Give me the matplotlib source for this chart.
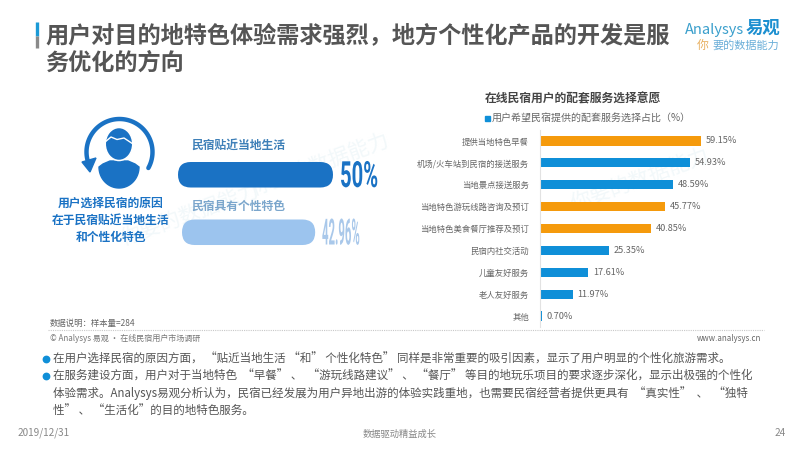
# -*- coding: utf-8 -*-
"""Slide: lodging users' reasons and wanted add-on services."""

import matplotlib
matplotlib.use("Agg")
import matplotlib.pyplot as plt
import numpy as np
from matplotlib.patches import Ellipse, FancyBboxPatch, Polygon
from matplotlib.patheffects import AbstractPathEffect
from matplotlib.transforms import Affine2D

plt.rcParams["font.family"] = ["Noto Sans CJK SC", "DejaVu Sans"]

services = [
    "提供当地特色早餐",
    "机场/火车站到民宿的接送服务",
    "当地景点接送服务",
    "当地特色游玩线路咨询及预订",
    "当地特色美食餐厅推荐及预订",
    "民宿内社交活动",
    "儿童友好服务",
    "老人友好服务",
    "其他",
]
service_pct = [59.15, 54.93, 48.59, 45.77, 40.85, 25.35, 17.61, 11.97, 0.70]
highlighted = [True, False, False, True, True, False, False, False, False]

reasons = ["民宿贴近当地生活", "民宿具有个性特色"]
reason_pct = [50, 42.96]
reason_labels = ["50%", "42.96%"]

title_lines = ["用户对目的地特色体验需求强烈，地方个性化产品的开发是服", "务优化的方向"]
icon_caption = ["用户选择民宿的原因", "在于民宿贴近当地生活", "和个性化特色"]
body_lines = [
    "在用户选择民宿的原因方面， “贴近当地生活 “和” 个性化特色” 同样是非常重要的吸引因素，显示了用户明显的个性化旅游需求。",
    "在服务建设方面，用户对于当地特色  “早餐” 、  “游玩线路建议” 、 “餐厅” 等目的地玩乐项目的要求逐步深化，显示出极强的个性化",
    "体验需求。Analysys易观分析认为，民宿已经发展为用户异地出游的体验实践重地，也需要民宿经营者提供更具有  “真实性”  、  “独特",
    "性” 、 “生活化”的目的地特色服务。",
]

BLUE = "#0f8fd8"
ORANGE = "#f59a0c"
DARK_BLUE = "#1a72c4"


class Squeeze(AbstractPathEffect):
    """Draw text narrower than the font, for the condensed big numbers."""

    def __init__(self, sx):
        super().__init__()
        self.sx = sx

    def draw_path(self, renderer, gc, tpath, affine, rgbFace=None):
        renderer.draw_path(gc, tpath, Affine2D().scale(self.sx, 1) + affine, rgbFace)


fig = plt.figure(figsize=(8, 4.5), dpi=100, facecolor="white")

# full-slide axes in pixel coordinates for the text and icon
bg = fig.add_axes([0, 0, 1, 1])
bg.set_xlim(0, 800)
bg.set_ylim(450, 0)
bg.axis("off")

# title
bg.plot([37, 37], [22, 36], color="#1b9ad6", lw=2.4, solid_capstyle="butt")
bg.plot([37, 37], [36, 48], color="#8a8a8a", lw=2.4, solid_capstyle="butt")
for y, line in zip([36, 63], title_lines):
    bg.text(45.5, y, line, fontsize=16.7, fontweight="bold", color="#555555", va="center")

# logo
bg.text(685, 30, "Analysys", fontsize=10.5, color="#3a9fcc", va="center", style="italic")
bg.text(746, 28, "易观", fontsize=12.5, color="#1c8fd0", va="center", fontweight="bold")
bg.text(697, 45, "你", fontsize=8.5, color="#e8b060", va="center", style="italic")
bg.text(712, 45, "要的数据能力", fontsize=8, color="#6aaed8", va="center", style="italic")

# watermark
for x, y in [(190, 215), (320, 165), (640, 180)]:
    bg.text(x, y, "你要的数据能力", fontsize=15, color="#f2f8fa", rotation=20, ha="center",
            va="center", zorder=0)

# person icon with the circular arrow
t = np.radians(np.linspace(-29, 194, 80))
bg.plot(119.5 + 33 * np.cos(t), 152 - 33 * np.sin(t), color=DARK_BLUE, lw=3.2, solid_capstyle="round")
bg.add_patch(Polygon([[82, 162], [96, 158], [90, 172]], color=DARK_BLUE))
s = np.radians(np.linspace(0, 180, 40))
body = np.column_stack([119 + 20 * np.cos(s), 167 + 21 * np.sin(s)])
body_top = np.array([[99, 167], [103, 164], [110, 161], [128, 161], [135, 164], [139, 167]])
bg.add_patch(Polygon(np.vstack([body, body_top]), color=DARK_BLUE))
bg.add_patch(Ellipse((119, 144), 27.5, 33, fc=DARK_BLUE, ec="white", lw=1.1))
bg.plot([105, 111, 117, 124, 133], [142, 137, 139.5, 138, 144], color="white", lw=1.0)
for y, line in zip([203, 220, 237], icon_caption):
    bg.text(111, y, line, fontsize=8.5, fontweight="bold", color=DARK_BLUE, ha="center", va="center")

# reason bars, rounded
px_per_pct = 3.1
reason_x = [178, 182]
reason_y = [162, 219.5]
bar_h = 25.5
reason_colors = [DARK_BLUE, "#9cc4ee"]
reason_text_y = [145, 206]
reason_text_colors = ["#3f80b8", "#7ba6cc"]
label_x = [340, 322]
label_colors = [DARK_BLUE, "#a9c8ea"]
label_squeeze = [0.56, 0.315]
for i, pct in enumerate(reason_pct):
    w = pct * px_per_pct
    r = bar_h / 2
    bg.add_patch(FancyBboxPatch((reason_x[i] + r, reason_y[i] + r), w - 2 * r, 0.01,
                                boxstyle=f"round,pad={r},rounding_size={r}", lw=0,
                                fc=reason_colors[i], ec="none"))
    bg.text(191.5, reason_text_y[i], reasons[i], fontsize=8.5, fontweight="bold",
            color=reason_text_colors[i], va="center")
    bg.text(label_x[i], reason_y[i] + 25, reason_labels[i], fontsize=26, fontweight="bold",
            color=label_colors[i], va="baseline", family=["Roboto", "DejaVu Sans"],
            path_effects=[Squeeze(label_squeeze[i])])

# chart heading and legend
bg.text(573, 99, "在线民宿用户的配套服务选择意愿", fontsize=8.5, fontweight="bold", color="#444444",
        ha="center", va="center")
bg.plot([487], [118], marker="s", ms=3.6, color=BLUE)
bg.text(492, 118, "用户希望民宿提供的配套服务选择占比（%）", fontsize=7.2, color="#666666", va="center")

# footnotes
bg.text(50, 323, "数据说明：样本量=284", fontsize=6, color="#666666", va="center")
bg.plot([48, 764], [329.5, 329.5], color="#c8c8c8", lw=0.8, ls=(0, (1, 1)))
bg.text(50, 338.5, "© Analysys 易观 · 在线民宿用户市场调研", fontsize=5.8, color="#777777", va="center")
bg.text(761, 338.5, "www.analysys.cn", fontsize=5.7, color="#666666", ha="right", va="center")

# body text
for y, line in zip([359, 376, 393, 410], body_lines):
    bg.text(53, y, line, fontsize=8.3, color="#555555", va="center")
bg.plot([46, 46], [359, 376], ls="none", marker="o", ms=4.6, color=BLUE)

# footer
bg.text(18, 433, "2019/12/31", fontsize=7.2, color="#888888", va="center")
bg.text(400, 434, "数据驱动精益成长", fontsize=6.7, color="#888888", ha="center", va="center")
bg.text(786, 433, "24", fontsize=7.2, color="#888888", ha="right", va="center")

# service bars
ax = fig.add_axes([540 / 800, 1 - 327 / 450, 240 / 800, 197 / 450])
ax.patch.set_alpha(0)
y_pos = np.arange(len(services))
colors = [ORANGE if h else BLUE for h in highlighted]
ax.barh(y_pos, service_pct, height=0.42, color=colors)
ax.set_xlim(0, 240 / 2.727)
ax.set_ylim(len(services) - 0.5, -0.5)
ax.set_yticks(y_pos, services, fontsize=6, color="#666666")
ax.tick_params(axis="y", length=0, pad=8)
ax.set_xticks([])
for side in ["top", "right", "bottom"]:
    ax.spines[side].set_visible(False)
ax.spines["left"].set_color("#e2e2e2")
for y, v in zip(y_pos, service_pct):
    ax.text(v + 1.8, y, f"{v:.2f}%", fontsize=6.6, color="#666666", va="center")

fig.savefig("out.png", dpi=100)
plt.close(fig)
